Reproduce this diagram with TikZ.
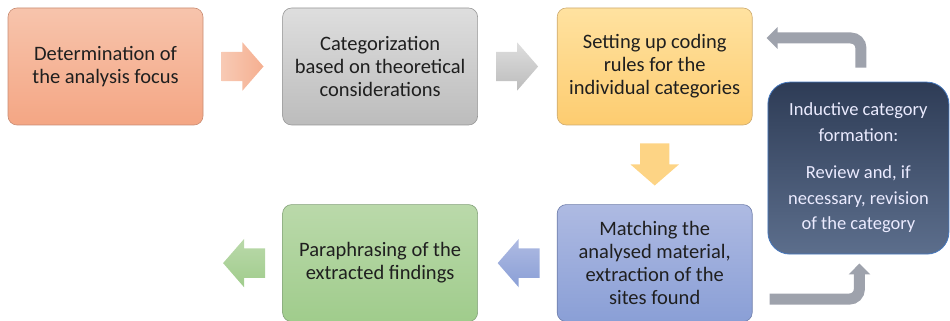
\documentclass[tikz,border=0pt]{standalone}
\usepackage{fontspec}
\setmainfont{Carlito}
\usepackage{tikz}
\usetikzlibrary{arrows.meta,positioning,shapes.arrows}
\definecolor{focusT}{RGB}{247,196,172}
\definecolor{focusB}{RGB}{244,166,132}
\definecolor{focusL}{RGB}{200,140,115}
\definecolor{categT}{RGB}{222,222,222}
\definecolor{categB}{RGB}{188,188,188}
\definecolor{categL}{RGB}{150,150,150}
\definecolor{rulesT}{RGB}{255,226,160}
\definecolor{rulesB}{RGB}{253,204,112}
\definecolor{rulesL}{RGB}{205,170,110}
\definecolor{matchT}{RGB}{174,186,226}
\definecolor{matchB}{RGB}{138,159,214}
\definecolor{matchL}{RGB}{110,125,170}
\definecolor{paraT}{RGB}{186,217,170}
\definecolor{paraB}{RGB}{160,204,140}
\definecolor{paraL}{RGB}{130,160,120}
\definecolor{inducT}{RGB}{46,60,86}
\definecolor{inducB}{RGB}{92,110,140}
\definecolor{inducL}{RGB}{70,120,190}
\definecolor{loopgray}{RGB}{158,162,172}

\begin{document}
\begin{tikzpicture}[x=1pt, y=1pt, node distance=79pt,
  every node/.style={font=\fontsize{20.5}{23}\selectfont, text=black!88},
  stagebox/.style={rounded corners=9pt, minimum width=195pt, minimum height=117pt, align=center, inner sep=2pt, line width=0.6pt},
  flowarrow/.style={single arrow, minimum height=42pt, single arrow head extend=9.5pt, single arrow tip angle=98, inner xsep=0pt, inner ysep=14.5pt},
  loopline/.style={line width=11pt, color=loopgray, rounded corners=10pt, -{Triangle[width=21pt,length=11pt]}}]
  \useasboundingbox (0,0) rectangle (950,321);

  % top row
  \node[stagebox, draw=focusL, top color=focusT, bottom color=focusB] (focus) at (105.5,254.5) {Determination of\\the analysis focus};
  \node[stagebox, draw=categL, top color=categT, bottom color=categB, right=of focus] (categ) {Categorization\\based on theoretical\\considerations};
  \node[stagebox, draw=rulesL, top color=rulesT, bottom color=rulesB, right=of categ] (rules) {Setting up coding\\rules for the\\individual categories};
  % bottom row
  \node[stagebox, draw=matchL, top color=matchT, bottom color=matchB, below=of rules] (match) {Matching the\\analysed material,\\extraction of the\\sites found};
  \node[stagebox, draw=paraL, top color=paraT, bottom color=paraB, left=of match] (para) {Paraphrasing of the\\extracted findings};
  % feedback box
  \node[draw=inducL, line width=0.8pt, rounded corners=22pt, top color=inducT, bottom color=inducB, minimum width=181pt, minimum height=172pt, align=center, anchor=north west, text=white!92!blue, font=\fontsize{18.5}{25.5}\selectfont] (induct) at ([xshift=15pt,yshift=-74pt]rules.north east) {Inductive category\\formation:\\[12pt]Review and, if\\necessary, revision\\of the category};

  % block arrows
  \node[flowarrow, left color=focusT!90!white, right color=focusB!90!white, right=18pt of focus] (arr1) {};
  \node[flowarrow, top color=categT, bottom color=categB, right=18pt of categ] (arr2) {};
  \node[flowarrow, shape border rotate=270, inner xsep=14.5pt, inner ysep=0pt, fill=rulesB!85!white, below=18pt of rules] (arr3) {};
  \node[flowarrow, shape border rotate=180, top color=matchT, bottom color=matchB, left=17pt of match] (arr4) {};
  \node[flowarrow, shape border rotate=180, top color=paraT, bottom color=paraB, left=17pt of para] (arr5) {};

  % loop through the inductive step
  \draw[loopline] ([xshift=2.5pt,yshift=14pt]induct.north) |- ([xshift=14pt,yshift=28.5pt]rules.east);
  \draw[loopline] ([xshift=17pt,yshift=-36pt]match.east) -| ([xshift=1pt,yshift=-9pt]induct.south);
\end{tikzpicture}
\end{document}
